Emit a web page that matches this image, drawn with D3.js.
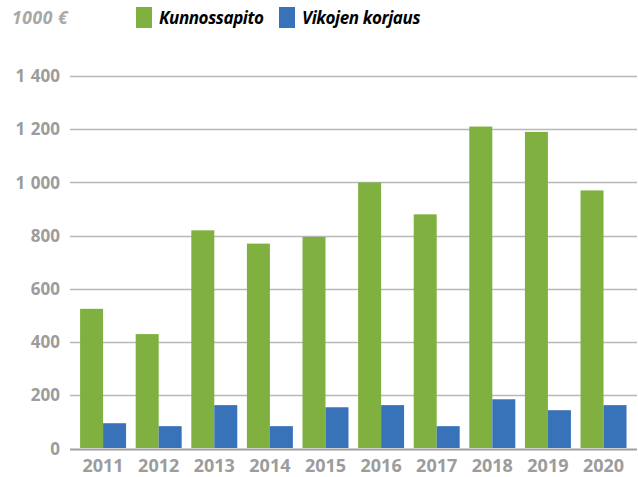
<!DOCTYPE html>
<html><head><meta charset="utf-8">
<script src="https://cdn.jsdelivr.net/npm/d3@7"></script>
<style>
html,body{margin:0;padding:0;background:#fff;}
svg{display:block;font-family:"Open Sans",sans-serif;}
</style></head>
<body>
<svg id="chart" width="638" height="477"></svg>
<script>
const years = ["2011","2012","2013","2014","2015","2016","2017","2018","2019","2020"];
const kunnossapito = [525, 430, 820, 770, 795, 1000, 880, 1210, 1190, 970];
const vikojenKorjaus = [95, 84, 163, 84, 155, 163, 84, 185, 144, 163];
const seriesNames = ["Kunnossapito", "Vikojen korjaus"];
const yTicks = [0, 200, 400, 600, 800, 1000, 1200, 1400];
const unitLabel = "1000 €";

const colors = ["#80b040", "#3873b9"];
const svg = d3.select("#chart");

const y = d3.scaleLinear().domain([0, 1400]).range([448.5, 76]);
const x = d3.scaleBand().domain(years).range([75.3, 631.3]).paddingInner(0.173).paddingOuter(0.086);
const xs = d3.scaleBand().domain([0,1]).range([0, x.bandwidth()]);

// gridlines
svg.append("g").selectAll("line").data(yTicks).join("line")
  .attr("x1", 70).attr("x2", 637)
  .attr("y1", d => Math.round(y(d)) + 0.5).attr("y2", d => Math.round(y(d)) + 0.5)
  .attr("stroke", d => d === 0 ? "#a0a0a0" : "#b8b8b8")
  .attr("stroke-width", d => d === 0 ? 2 : 1.6);

// y labels
svg.append("g").selectAll("text").data(yTicks).join("text")
  .attr("x", 60).attr("y", d => y(d)).attr("dy", "0.36em")
  .attr("text-anchor", "end")
  .attr("font-size", 17).attr("font-weight", 700).attr("fill", "#9c9c9c")
  .text(d => d3.format(",")(d).replace(/,/g, "\u2004"));

// bars
const data = years.map((yr, i) => ({yr, vals: [kunnossapito[i], vikojenKorjaus[i]]}));
const g = svg.append("g").selectAll("g").data(data).join("g")
  .attr("transform", d => `translate(${x(d.yr)},0)`);
g.selectAll("rect").data(d => d.vals.map((v, j) => ({v, j}))).join("rect")
  .attr("x", d => xs(d.j)).attr("width", xs.bandwidth())
  .attr("y", d => y(d.v)).attr("height", d => y(0) - y(d.v) - 0.5)
  .attr("fill", d => colors[d.j]);

// x labels
svg.append("g").selectAll("text").data(years).join("text")
  .attr("x", d => x(d) + x.bandwidth() / 2).attr("y", 472)
  .attr("text-anchor", "middle")
  .attr("font-size", 18).attr("font-weight", 700).attr("fill", "#9c9c9c")
  .text(d => d);

// unit label
svg.append("text").attr("x", 12).attr("y", 24)
  .attr("font-size", 17.5).attr("font-weight", 700).attr("font-style", "italic")
  .attr("letter-spacing", 0.6)
  .attr("fill", "#a8a8a8").text(unitLabel);

// legend
const legX = [136, 279];
const leg = svg.append("g").selectAll("g").data(seriesNames).join("g")
  .attr("transform", (d, i) => `translate(${legX[i]},7)`);
leg.append("rect").attr("width", 16).attr("height", 21).attr("fill", (d, i) => colors[i]);
leg.append("text").attr("x", 23).attr("y", 17)
  .attr("font-size", 17).attr("font-weight", 700).attr("font-style", "italic")
  .attr("letter-spacing", -0.4)
  .attr("fill", "#000").text(d => d);
</script>
</body></html>
